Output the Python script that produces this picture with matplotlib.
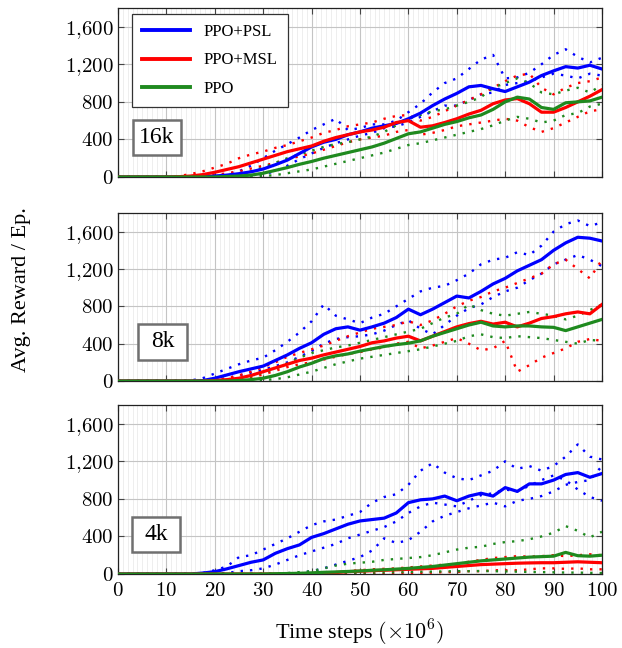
import numpy as np
import matplotlib
matplotlib.use("Agg")
import matplotlib.pyplot as plt
from matplotlib.ticker import MultipleLocator, FuncFormatter
from matplotlib.patches import Rectangle

plt.rcParams['font.family'] = ['Liberation Serif', 'DejaVu Serif']
plt.rcParams['mathtext.fontset'] = 'cm'

# time steps (x10^6), sampled every 2.5
steps = np.linspace(0, 100, 41)

methods = ['PPO+PSL', 'PPO+MSL', 'PPO']
colors = ['#0000ff', '#ff0000', '#1f8a1f']
panels = ['16k', '8k', '4k']

# ---- 16k ----
psl_16k = [0]*7 + [3, 10, 20, 35, 55, 85, 130, 180, 250, 320, 370, 400, 450, 480, 520, 545, 570,
                   620, 680, 760, 830, 890, 960, 975, 940, 910, 960, 1010, 1080, 1130, 1175, 1160, 1190, 1150]
msl_16k = [0]*5 + [3, 10, 25, 50, 80, 110, 150, 190, 230, 270, 300, 330, 380, 420, 450, 480, 500, 530,
                   580, 600, 530, 545, 580, 620, 670, 710, 780, 820, 835, 780, 690, 690, 740, 800, 860, 930]
ppo_16k = [0]*9 + [5, 10, 20, 40, 70, 100, 135, 165, 200, 230, 260, 290, 320, 360, 410, 460, 480,
                   520, 560, 590, 630, 660, 720, 800, 850, 830, 740, 720, 790, 800, 810, 850]
psl_16k_runs = [
    [0]*7 + [5, 15, 30, 60, 120, 200, 280, 350, 420, 500, 560, 620, 500, 520, 560, 560, 600, 690,
             780, 900, 1000, 1050, 1150, 1250, 1300, 1050, 1060, 1110, 1200, 1300, 1360, 1280, 1220, 1270],
    [0]*10 + [5, 15, 30, 60, 120, 190, 250, 310, 360, 400, 440, 470, 520, 540, 580, 640, 700, 760,
              760, 820, 880, 900, 980, 1000, 1020, 1060, 1100, 1080, 1050, 1100, 1080],
]
msl_16k_runs = [
    [0]*5 + [10, 30, 60, 100, 140, 200, 240, 270, 310, 340, 380, 420, 470, 500, 540, 560, 580, 620,
             650, 660, 600, 640, 700, 760, 820, 880, 950, 1020, 1080, 1100, 950, 880, 950, 1000, 1020, 1060],
    [0]*6 + [5, 10, 20, 40, 60, 90, 120, 150, 190, 220, 250, 290, 330, 370, 400, 420, 440, 480, 500,
             450, 470, 500, 540, 560, 580, 600, 620, 600, 530, 480, 520, 580, 640, 700, 720],
]
ppo_16k_runs = [
    [0]*8 + [5, 15, 30, 60, 100, 150, 200, 240, 280, 320, 350, 370, 400, 430, 480, 550, 620, 660,
             700, 720, 760, 800, 850, 950, 1000, 1050, 1000, 900, 880, 920, 950, 900, 980],
    [0]*11 + [5, 10, 20, 40, 60, 80, 110, 140, 170, 200, 230, 260, 300, 340, 360, 390, 420, 450,
              480, 510, 550, 600, 640, 620, 580, 600, 660, 680, 750, 780],
]

# ---- 8k ----
psl_8k = [0]*7 + [5, 30, 65, 100, 130, 160, 220, 280, 350, 410, 500, 560, 580, 545, 580, 620, 680,
                  770, 710, 770, 840, 910, 890, 960, 1040, 1100, 1180, 1240, 1300, 1400, 1480, 1540, 1530, 1500]
msl_8k = [0]*8 + [5, 15, 30, 60, 100, 140, 180, 220, 245, 280, 310, 340, 370, 410, 430, 460, 480,
                  430, 480, 530, 580, 615, 640, 610, 630, 580, 620, 670, 690, 720, 740, 720, 820]
ppo_8k = [0]*10 + [5, 15, 30, 60, 100, 150, 190, 240, 270, 290, 320, 345, 370, 390, 405, 430, 480,
                   520, 560, 600, 630, 590, 580, 590, 590, 580, 575, 540, 580, 620, 660]
psl_8k_runs = [
    [0]*6 + [5, 30, 80, 130, 180, 220, 250, 330, 420, 520, 640, 820, 700, 660, 620, 680, 720, 800,
             880, 960, 1000, 1020, 1080, 1150, 1250, 1300, 1320, 1380, 1350, 1450, 1600, 1680, 1720, 1660, 1700],
    [0]*8 + [10, 30, 60, 90, 120, 160, 200, 260, 320, 400, 450, 470, 480, 500, 540, 600, 650, 560,
             500, 600, 700, 780, 820, 900, 960, 1000, 1080, 1150, 1250, 1300, 1350, 1300, 1230],
]
msl_8k_runs = [
    [0]*8 + [10, 30, 60, 100, 150, 200, 260, 300, 340, 380, 430, 480, 520, 560, 580, 600, 640, 600,
             650, 720, 800, 860, 900, 960, 1000, 1050, 1100, 1150, 1250, 1300, 1200, 1100, 1300],
    [0]*9 + [5, 15, 40, 70, 110, 150, 180, 200, 230, 260, 290, 310, 340, 360, 400, 420, 350, 380,
             420, 460, 400, 330, 350, 430, 100, 170, 250, 300, 350, 420, 450, 430],
]
ppo_8k_runs = [
    [0]*9 + [5, 20, 50, 90, 130, 190, 250, 300, 330, 360, 380, 410, 440, 470, 500, 530, 560, 620,
             680, 720, 820, 760, 720, 700, 720, 740, 720, 700, 660, 700, 760, 820],
    [0]*11 + [5, 10, 20, 40, 70, 100, 140, 180, 210, 240, 260, 280, 300, 320, 340, 370, 400, 430,
              480, 500, 470, 460, 480, 470, 460, 440, 420, 400, 440, 430],
]

# ---- 4k ----
psl_4k = [0]*7 + [10, 25, 55, 90, 125, 150, 220, 270, 310, 390, 430, 480, 530, 565, 580, 595, 650,
                  760, 790, 800, 830, 780, 830, 860, 830, 920, 880, 960, 960, 1000, 1060, 1080, 1030, 1070]
msl_4k = [0]*15 + [3, 5, 10, 15, 25, 30, 35, 40, 45, 50, 55, 60, 70, 80, 90, 100, 105, 110, 115,
                   118, 120, 120, 125, 130, 125, 120]
ppo_4k = [0]*13 + [3, 5, 8, 12, 18, 22, 27, 32, 40, 45, 52, 60, 70, 80, 95, 110, 125, 140, 150,
                   160, 170, 180, 185, 190, 230, 195, 190, 200]
psl_4k_runs = [
    [0]*7 + [10, 40, 80, 180, 200, 260, 320, 380, 450, 520, 560, 580, 620, 660, 760, 820, 850, 950,
             1100, 1180, 1080, 1020, 1000, 1050, 1100, 1200, 1120, 1150, 1100, 1150, 1250, 1380, 1250, 1220],
    [0]*9 + [10, 30, 40, 60, 100, 150, 200, 240, 280, 320, 380, 420, 460, 500, 560, 650, 720, 760,
             740, 720, 780, 840, 860, 900, 880, 940, 1000, 1050, 1000, 900, 820, 780],
    [0]*15 + [10, 30, 60, 100, 140, 180, 250, 380, 330, 360, 450, 560, 620, 660, 700, 730, 760, 720,
              780, 800, 830, 880, 950, 980, 1000, 1150],
]
msl_4k_runs = [
    [0]*17 + [10, 20, 30, 40, 50, 55, 60, 70, 80, 90, 100, 110, 130, 150, 170, 180, 190, 185, 190,
              200, 190, 200, 210, 200],
    [0]*23 + [5, 10, 10, 15, 20, 20, 30, 30, 40, 40, 40, 50, 60, 60, 55, 60, 50, 50],
]
ppo_4k_runs = [
    [0]*13 + [5, 10, 20, 30, 60, 90, 110, 120, 130, 150, 160, 170, 180, 200, 230, 260, 280, 290,
              320, 340, 350, 370, 400, 440, 510, 460, 390, 450],
    [0]*15 + [3, 5, 8, 10, 12, 15, 15, 18, 20, 22, 25, 25, 28, 30, 30, 32, 30, 28, 25, 22, 20, 18,
              15, 15, 12, 10],
]

means = [[psl_16k, msl_16k, ppo_16k], [psl_8k, msl_8k, ppo_8k], [psl_4k, msl_4k, ppo_4k]]
runs = [[psl_16k_runs, msl_16k_runs, ppo_16k_runs],
        [psl_8k_runs, msl_8k_runs, ppo_8k_runs],
        [psl_4k_runs, msl_4k_runs, ppo_4k_runs]]

fig = plt.figure(figsize=(6.22, 6.48), dpi=100)
bottoms = [0.7269, 0.4120, 0.1142]
heights = [0.2608, 0.2593, 0.2608]
box_x = [0.030, 0.042, 0.028]

ytick_fmt = FuncFormatter(lambda v, p: r'$%s$' % f'{int(v):,}'.replace(',', '{,}'))

for i in range(3):
    ax = fig.add_axes([0.1897, bottoms[i], 0.7781, heights[i]])
    for m in range(3):
        for run in runs[i][m]:
            ax.plot(steps, run, color=colors[m], lw=1.7, dashes=(1, 3), zorder=2)
    for m in range(3):
        ax.plot(steps, means[i][m], color=colors[m], lw=2.3, label=methods[m], zorder=3)

    ax.set_xlim(0, 100)
    ax.set_ylim(0, 1800)
    ax.xaxis.set_major_locator(MultipleLocator(10))
    ax.xaxis.set_minor_locator(MultipleLocator(1))
    ax.set_yticks([0, 400, 800, 1200, 1600])
    ax.yaxis.set_major_formatter(ytick_fmt)
    ax.xaxis.set_major_formatter(FuncFormatter(lambda v, p: r'$%d$' % v))
    ax.grid(which='major', color='#c4c4c4', lw=0.8, zorder=0)
    ax.grid(which='minor', axis='x', color='#ebebeb', lw=0.6, zorder=0)
    ax.set_axisbelow(True)
    ax.tick_params(which='major', direction='in', length=4, top=True, right=True,
                   labelsize=15, color='#444444', pad=3)
    ax.tick_params(axis='x', pad=6)
    ax.tick_params(which='minor', length=0)
    for s in ax.spines.values():
        s.set_color('#222222')
        s.set_linewidth(0.9)
    if i < 2:
        ax.tick_params(labelbottom=False)
    else:
        ax.set_xlabel(r'Time steps $(\times10^{6})$', fontsize=16, labelpad=12)

    ax.add_patch(Rectangle((box_x[i], 0.128), 0.101, 0.21, transform=ax.transAxes,
                           facecolor='white', edgecolor='#707070', lw=1.8, zorder=5))
    ax.text(box_x[i] + 0.0505, 0.233, panels[i], transform=ax.transAxes, fontsize=17,
            ha='center', va='center', zorder=6)

    if i == 0:
        leg = ax.legend(loc='upper left', bbox_to_anchor=(0.029, 0.965), fontsize=12,
                        handlelength=2.9, labelspacing=0.75, borderpad=0.6,
                        fancybox=False, framealpha=1, edgecolor='#333333', borderaxespad=0)
        leg.get_frame().set_linewidth(0.9)
        for line in leg.get_lines():
            line.set_linewidth(2.8)

fig.text(0.035, 0.553, 'Avg. Reward / Ep.', rotation=90, fontsize=16, ha='center', va='center')

fig.savefig('out.png', dpi=100)
